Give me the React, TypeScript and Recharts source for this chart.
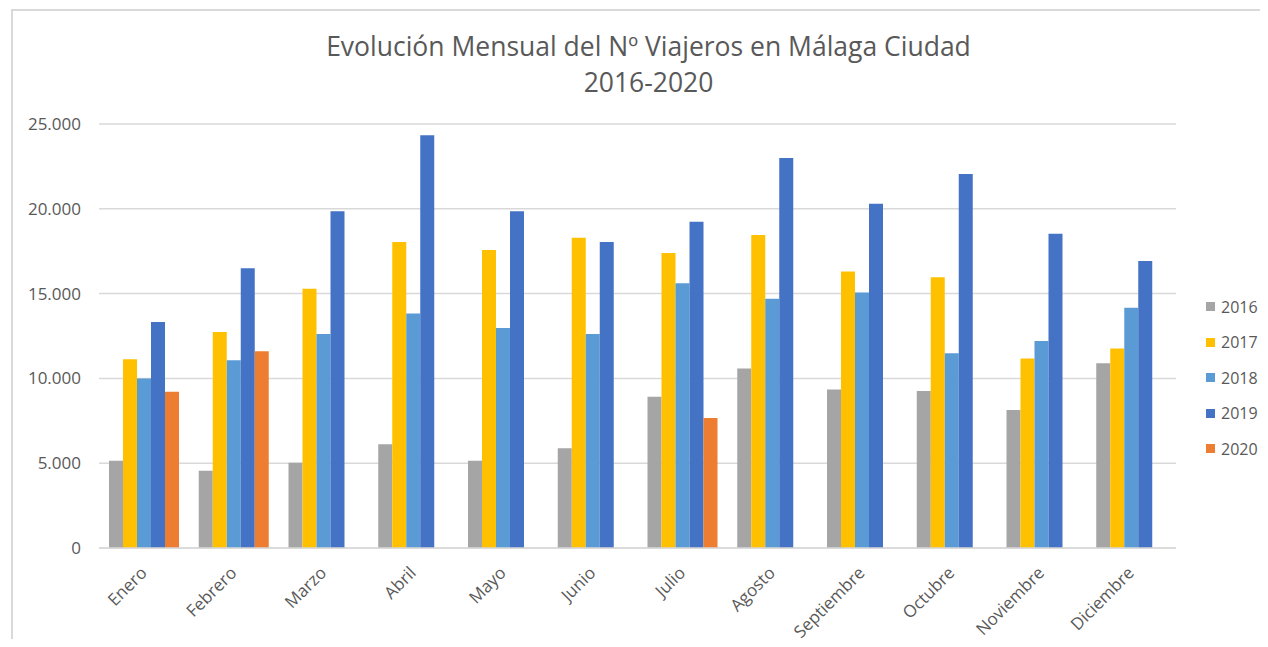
import { BarChart, Bar, XAxis, YAxis, CartesianGrid } from 'recharts'

const months = [
  'Enero',
  'Febrero',
  'Marzo',
  'Abril',
  'Mayo',
  'Junio',
  'Julio',
  'Agosto',
  'Septiembre',
  'Octubre',
  'Noviembre',
  'Diciembre',
]

const y2016 = [5150, 4560, 5030, 6110, 5150, 5880, 8920, 10590, 9340, 9260, 8140, 10890]
const y2017 = [11130, 12740, 15290, 18040, 17570, 18300, 17390, 18460, 16310, 15960, 11180, 11770]
const y2018 = [10000, 11070, 12620, 13820, 12970, 12620, 15610, 14700, 15060, 11480, 12210, 14170]
const y2019 = [13330, 16490, 19850, 24330, 19850, 18040, 19240, 23000, 20300, 22050, 18530, 16920]
const y2020 = [9220, 11600, null, null, null, null, 7670, null, null, null, null, null]

const yTicks = [0, 5000, 10000, 15000, 20000, 25000]

const series = [
  { key: '2016', values: y2016, color: '#A5A5A5' },
  { key: '2017', values: y2017, color: '#FFC000' },
  { key: '2018', values: y2018, color: '#5B9BD5' },
  { key: '2019', values: y2019, color: '#4472C4' },
  { key: '2020', values: y2020, color: '#ED7D31' },
]

const chartData = months.map((m, i) => {
  const row: Record<string, string | number | null> = { month: m }
  series.forEach((s) => {
    row[s.key] = s.values[i]
  })
  return row
})

const FONT = '"Open Sans", sans-serif'
const TEXT = '#595959'

function fmt(v: number): string {
  return String(v).replace(/\B(?=(\d{3})+(?!\d))/g, '.')
}

function MonthTick(props: any) {
  const { x, y, payload } = props
  return (
    <text
      x={x + 4}
      y={y + 26}
      transform={`rotate(-45, ${x + 4}, ${y + 26})`}
      textAnchor="end"
      fill={TEXT}
      fontSize={17}
      fontFamily={FONT}
    >
      {payload.value}
    </text>
  )
}

export default function App() {
  return (
    <div style={{ position: 'relative', width: 1252, height: 631, fontFamily: FONT }}>
      <style>{`html,body{overflow:hidden}.recharts-surface{overflow:visible}`}</style>
      <div
        style={{
          position: 'absolute',
          left: 3,
          top: 1,
          width: 1257,
          height: 630,
          borderLeft: '2px solid #d9d9d9',
          borderTop: '2px solid #d9d9d9',
          boxSizing: 'border-box',
          pointerEvents: 'none',
        }}
      />
      <div
        style={{
          position: 'absolute',
          left: 190,
          width: 901,
          top: 20,
          textAlign: 'center',
          color: TEXT,
          fontSize: 26.5,
          lineHeight: '36px',
          whiteSpace: 'nowrap',
        }}
      >
        <div>Evolución Mensual del Nº Viajeros en Málaga Ciudad</div>
        <div>2016-2020</div>
      </div>
      <BarChart
        width={1252}
        height={631}
        data={chartData}
        margin={{ top: 116, right: 84, left: 31, bottom: 0 }}
        barSize={14}
        barGap={0}
      >
        <CartesianGrid vertical={false} stroke="#d9d9d9" strokeWidth={1.5} />
        <XAxis
          dataKey="month"
          height={91}
          interval={0}
          tickLine={false}
          tickSize={0}
          tickMargin={0}
          axisLine={{ stroke: '#d9d9d9', strokeWidth: 1.5 }}
          tick={<MonthTick />}
        />
        <YAxis
          width={60}
          domain={[0, 25000]}
          ticks={yTicks}
          axisLine={false}
          tickLine={false}
          tickSize={0}
          tickMargin={18}
          tickFormatter={fmt}
          tick={{ fill: TEXT, fontSize: 17, fontFamily: FONT }}
        />
        {series.map((s) => (
          <Bar key={s.key} dataKey={s.key} fill={s.color} isAnimationActive={false} />
        ))}
      </BarChart>
      <div style={{ position: 'absolute', left: 1198, top: 281, width: 54 }}>
        {series.map((s) => (
          <div
            key={s.key}
            style={{
              display: 'flex',
              alignItems: 'center',
              height: 35.5,
              color: TEXT,
              fontSize: 16,
              whiteSpace: 'nowrap',
            }}
          >
            <span
              style={{
                display: 'inline-block',
                flex: 'none',
                width: 9,
                height: 9,
                background: s.color,
                marginRight: 6,
              }}
            />
            {s.key}
          </div>
        ))}
      </div>
    </div>
  )
}
